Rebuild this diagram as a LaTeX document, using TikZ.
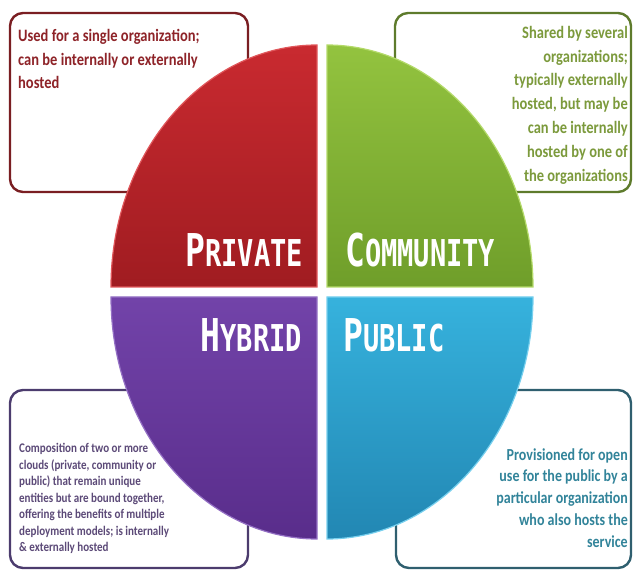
\documentclass[tikz,border=0pt]{standalone}
\usepackage{fontspec}
\usepackage{graphicx}
\newfontfamily\boxfont{Carlito}
\newfontfamily\labelfont{DejaVu Sans Mono}

\definecolor{privtop}{HTML}{C92A30}
\definecolor{privbot}{HTML}{A01C21}
\definecolor{privrim}{HTML}{E0575B}
\definecolor{privbd}{HTML}{7A1E22}
\definecolor{privtx}{HTML}{8E2328}
\definecolor{commtop}{HTML}{93C33F}
\definecolor{commbot}{HTML}{6F9E2A}
\definecolor{commrim}{HTML}{B4DA6A}
\definecolor{commbd}{HTML}{5E7B2C}
\definecolor{commtx}{HTML}{7C9A3C}
\definecolor{hybrtop}{HTML}{7243A9}
\definecolor{hybrbot}{HTML}{592D8B}
\definecolor{hybrrim}{HTML}{9470C4}
\definecolor{hybrbd}{HTML}{4C3C6E}
\definecolor{hybrtx}{HTML}{5C4A78}
\definecolor{publtop}{HTML}{36B2DD}
\definecolor{publbot}{HTML}{2287B3}
\definecolor{publrim}{HTML}{78D0EE}
\definecolor{publbd}{HTML}{2F5F6F}
\definecolor{publtx}{HTML}{32849A}

% first letter large, rest small
\newcommand\capword[2]{{\fontsize{33}{33}\selectfont #1}{\fontsize{27}{27}\selectfont #2}}

\begin{document}
\begin{tikzpicture}
	[x=1pt,y=1pt,
		descbox/.style={rounded corners=13pt,line width=2.4pt,fill=white},
		desc/.style={font=\boxfont\bfseries\fontsize{14.5}{19.8}\selectfont,yscale=1.2,inner sep=0pt},
		smalldesc/.style={font=\boxfont\bfseries\fontsize{11}{13.75}\selectfont,yscale=1.2,inner sep=0pt},
		quad/.style={line width=1.2pt},
		big/.style={font=\labelfont\bfseries,text=white,inner sep=0pt,yscale=1.37}]

	\useasboundingbox (0,0) rectangle (633,571);

	% description boxes
	\draw[descbox,draw=privbd] (10,379) rectangle (248,558);
	\draw[descbox,draw=commbd] (395,379) rectangle (631,558);
	\draw[descbox,draw=hybrbd] (10,3) rectangle (248,181);
	\draw[descbox,draw=publbd] (396,3) rectangle (631,181);

	\node[desc,text=privtx,anchor=north west,align=left] (privtxt) at (18,542)
		{Used for a single organization;\\can be internally or externally\\hosted};
	\node[desc,text=commtx,anchor=north east,align=right] (commtxt) at (628,545)
		{Shared by several\\organizations;\\typically externally\\hosted, but may be\\can be internally\\hosted by one of\\the organizations};
	\node[smalldesc,text=hybrtx,anchor=north west,align=left] (hybrtxt) at (19,128)
		{Composition of two or more\\clouds (private, community or\\public) that remain unique\\entities but are bound together,\\offering the benefits of multiple\\deployment models; is internally\\\& externally hosted};
	\node[desc,text=publtx,anchor=north east,align=right,font=\boxfont\bfseries\fontsize{14}{18.2}\selectfont] (publtxt) at (628,123)
		{Provisioned for open\\use for the public by a\\particular organization\\who also hosts the\\service};

	% quadrants
	\shadedraw[quad,top color=privtop,bottom color=privbot,draw=privrim]
		(317,284) -- (111,284) arc[start angle=180,end angle=90,x radius=206,y radius=242] -- cycle;
	\shadedraw[quad,top color=commtop,bottom color=commbot,draw=commrim]
		(327,284) -- (533,284) arc[start angle=0,end angle=90,x radius=206,y radius=242] -- cycle;
	\shadedraw[quad,top color=hybrtop,bottom color=hybrbot,draw=hybrrim]
		(317,274) -- (111,274) arc[start angle=180,end angle=270,x radius=206,y radius=242] -- cycle;
	\shadedraw[quad,top color=publtop,bottom color=publbot,draw=publrim]
		(327,274) -- (533,274) arc[start angle=0,end angle=-90,x radius=206,y radius=242] -- cycle;

	% titles
	\node[big,anchor=base east] (priv) at (303,304) {\capword{P}{RIVATE}};
	\node[big,anchor=base west] (comm) at (345,304) {\capword{C}{OMMUNITY}};
	\node[big,anchor=base east] (hybr) at (302,219) {\capword{H}{YBRID}};
	\node[big,anchor=base west] (publ) at (343,219) {\capword{P}{UBLIC}};

\end{tikzpicture}
\end{document}
